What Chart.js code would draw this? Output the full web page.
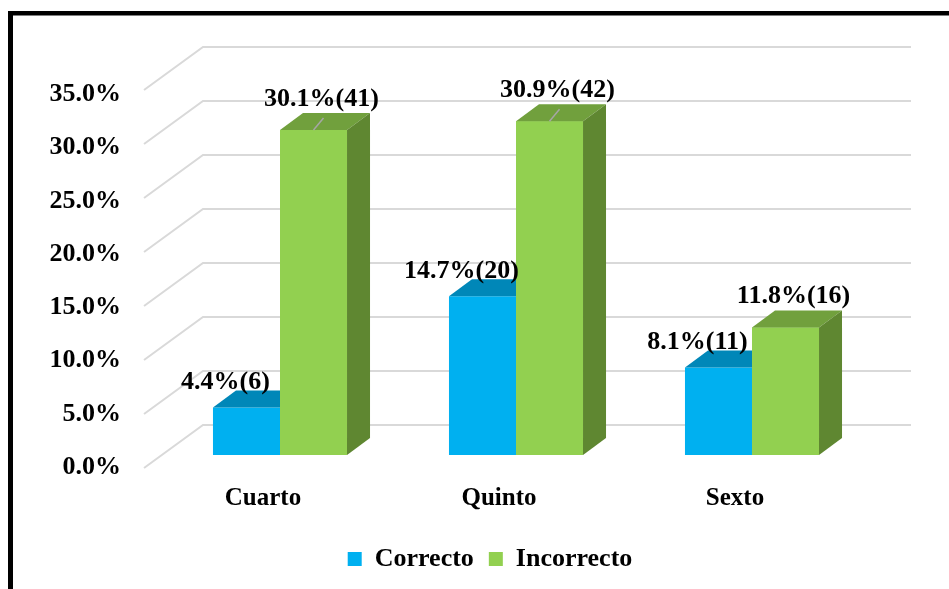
<!DOCTYPE html>
<html>
<head>
<meta charset="utf-8">
<script src="https://cdn.jsdelivr.net/npm/chart.js@4.4.0/dist/chart.umd.min.js"></script>
<style>
  html, body { margin: 0; padding: 0; background: #fff; }
  #contenedor { width: 949px; height: 589px; }
</style>
</head>
<body>
<div id="contenedor"><canvas id="grafica"></canvas></div>
<script>
// --- Datos ---
const categorias = ['Cuarto', 'Quinto', 'Sexto'];
const nombresSeries = ['Correcto', 'Incorrecto'];
const correcto = [4.4, 14.7, 8.1];
const incorrecto = [30.1, 30.9, 11.8];
const correctoN = [6, 20, 11];
const incorrectoN = [41, 42, 16];
const yTicks = [0, 5, 10, 15, 20, 25, 30, 35];

// --- Estilo ---
const FUENTE = '"Liberation Serif", "Times New Roman", serif';
const colores = {
  frente: ['#00B0F0', '#92D050'],
  tapa: ['#0087B8', '#71A03D'],
  lado: ['#0078A5', '#5F8731']
};
const PROF = { dx: 23, dy: -17 };    // profundidad de cada barra
const PARED = { dx: 41, dy: -30 };   // pared del fondo
const FRENTE = { dx: -18, dy: 13 };  // plano frontal del eje

const formatPct = v => `${v.toFixed(1)}%`;

// caras superior y lateral de una barra
function dibujarCaras(ctx, bar, i) {
  const izq = bar.x - bar.width / 2;
  const der = bar.x + bar.width / 2;
  const arriba = bar.y;
  const abajo = bar.base;
  ctx.fillStyle = colores.tapa[i];
  ctx.beginPath();
  ctx.moveTo(izq, arriba);
  ctx.lineTo(der, arriba);
  ctx.lineTo(der + PROF.dx, arriba + PROF.dy);
  ctx.lineTo(izq + PROF.dx, arriba + PROF.dy);
  ctx.closePath();
  ctx.fill();
  ctx.fillStyle = colores.lado[i];
  ctx.beginPath();
  ctx.moveTo(der, arriba);
  ctx.lineTo(der + PROF.dx, arriba + PROF.dy);
  ctx.lineTo(der + PROF.dx, abajo + PROF.dy);
  ctx.lineTo(der, abajo);
  ctx.closePath();
  ctx.fill();
}

// --- Plugin: pared, cuadricula y caras 3D ---
const plugin3D = {
  id: 'plugin3D',
  beforeDatasetsDraw(chart) {
    const { ctx, chartArea, scales: { y } } = chart;
    ctx.save();
    ctx.strokeStyle = '#D9D9D9';
    ctx.lineWidth = 2;
    yTicks.forEach(v => {
      const py = y.getPixelForValue(v);
      ctx.beginPath();
      ctx.moveTo(chartArea.left + FRENTE.dx, py + FRENTE.dy);
      ctx.lineTo(chartArea.left + PARED.dx, py + PARED.dy);
      ctx.lineTo(chartArea.right + PARED.dx, py + PARED.dy);
      ctx.stroke();
    });
    ctx.restore();
  },
  afterDatasetsDraw(chart) {
    const { ctx } = chart;
    ctx.save();
    chart.getDatasetMeta(0).data.forEach(bar => dibujarCaras(ctx, bar, 0));
    // las barras verdes van delante de las azules
    chart.getDatasetMeta(1).data.forEach(bar => {
      bar.draw(ctx);
      dibujarCaras(ctx, bar, 1);
    });
    ctx.restore();
  },
  afterDraw(chart) {
    const { ctx } = chart;
    ctx.save();
    // etiquetas de datos
    ctx.font = `bold 26px ${FUENTE}`;
    ctx.fillStyle = '#000';
    ctx.textAlign = 'center';
    ctx.textBaseline = 'middle';
    const valores = [correcto, incorrecto];
    const conteos = [correctoN, incorrectoN];
    const offs = [{ x: -21, y: -25 }, { x: 8, y: -31 }];
    chart.data.datasets.forEach((ds, i) => {
      chart.getDatasetMeta(i).data.forEach((bar, j) => {
        const txt = `${formatPct(valores[i][j])}(${conteos[i][j]})`;
        ctx.fillText(txt, bar.x + offs[i].x, bar.y + offs[i].y);
        if (i === 1 && j < 2) {
          ctx.strokeStyle = '#A6A6A6';
          ctx.lineWidth = 1.5;
          ctx.beginPath();
          ctx.moveTo(bar.x, bar.y);
          ctx.lineTo(bar.x + 10, bar.y - 12);
          ctx.stroke();
        }
      });
    });
    // marco
    ctx.fillStyle = '#000';
    ctx.fillRect(8, 11, 5, chart.height);
    ctx.fillRect(8, 11, chart.width, 4.5);
    ctx.restore();
  }
};

// --- Grafica ---
Chart.defaults.font.family = FUENTE;
Chart.defaults.font.weight = 'bold';
Chart.defaults.font.size = 25;
Chart.defaults.color = '#000';

new Chart(document.getElementById('grafica'), {
  type: 'bar',
  data: {
    labels: categorias,
    datasets: [
      { label: nombresSeries[0], data: correcto, backgroundColor: colores.frente[0] },
      { label: nombresSeries[1], data: incorrecto, backgroundColor: colores.frente[1] }
    ]
  },
  options: {
    responsive: true,
    maintainAspectRatio: false,
    animation: false,
    datasets: { bar: { categoryPercentage: 0.568, barPercentage: 1 } },
    layout: { padding: { left: 31, right: 0, top: 77, bottom: 7 } },
    scales: {
      x: {
        grid: { display: false, drawTicks: false },
        border: { display: false },
        ticks: { labelOffset: -17, padding: 29 },
        afterFit: ax => { ax.height = 76; }
      },
      y: {
        display: false,
        min: 0,
        max: 35
      },
      // eje de etiquetas sobre el plano frontal
      yFrente: {
        type: 'linear',
        position: 'left',
        min: 1.13,
        max: 36.65,
        grid: { display: false, drawTicks: false },
        border: { display: false },
        afterBuildTicks: ax => { ax.ticks = yTicks.map(v => ({ value: v })); },
        ticks: { padding: 41, autoSkip: false, font: { size: 26 }, callback: v => formatPct(v) },
        afterFit: ax => { ax.width = 131; }
      },
      derecha: {
        type: 'linear',
        position: 'right',
        display: true,
        grid: { display: false, drawTicks: false },
        border: { display: false },
        ticks: { display: false },
        afterFit: ax => { ax.width = 79; }
      }
    },
    plugins: {
      legend: {
        position: 'bottom',
        labels: { boxWidth: 14, boxHeight: 14, padding: 15, font: { size: 26, weight: 'bold' } }
      },
      tooltip: { enabled: false }
    }
  },
  plugins: [plugin3D]
});
</script>
</body>
</html>
